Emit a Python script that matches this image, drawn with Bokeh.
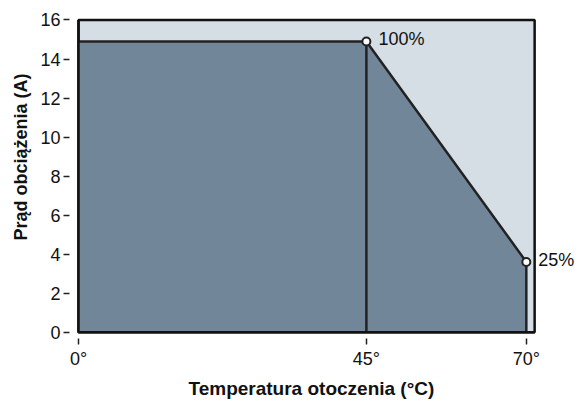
from bokeh.plotting import figure
from bokeh.models import Range1d, FixedTicker, Label, Title
from bokeh.embed import file_html
from bokeh.resources import INLINE

# data
temps = [0, 45, 70]
currents = [14.9, 14.9, 3.6]
pct_labels = ["100%", "25%"]
x_ticks = [0, 45, 70]
x_tick_labels = ["0°", "45°", "70°"]
y_ticks = [0, 2, 4, 6, 8, 10, 12, 14, 16]
x_max = 71.3
y_max = 16

FONT = "Liberation Sans"
DARK = "#718799"
LIGHT = "#d5dee4"
LINE = "#222222"

p = figure(width=578, height=403, output_backend="svg", toolbar_location=None,
           x_range=Range1d(-1.407, 78.0), y_range=Range1d(-0.323, 16.128),
           min_border_left=69, min_border_right=1, min_border_top=17, min_border_bottom=65)
p.outline_line_color = None
p.grid.visible = False
p.background_fill_color = "white"

# background region
p.quad(left=[0], right=[x_max], bottom=[0], top=[y_max], fill_color=LIGHT,
       line_color="#111111", line_width=2.5)

# derating area
px = [0] + temps + [temps[-1]]
py = [0] + currents + [0]
p.patch(px, py, fill_color=DARK, line_color=None)
p.line(temps, currents, line_color=LINE, line_width=2.5)
p.segment(x0=temps[1:], y0=[0, 0], x1=temps[1:], y1=currents[1:], line_color=LINE, line_width=2.5)
p.line([0, 0, x_max], [y_max, 0, 0], line_color="#111111", line_width=2.5)
p.scatter(temps[1:], currents[1:], size=8, fill_color="white", line_color=LINE, line_width=2)

for xv, yv, t in zip(temps[1:], currents[1:], pct_labels):
    p.add_layout(Label(x=xv, y=yv, text=t, x_offset=12, y_offset=2,
                       text_baseline="middle", text_font=FONT, text_font_size="18px",
                       text_color="#111111"))

for ax in (p.xaxis[0], p.yaxis[0]):
    ax.axis_line_color = None
    ax.major_tick_in = 0
    ax.major_tick_out = 6
    ax.minor_tick_line_color = None
    ax.major_tick_line_color = "#222222"
    ax.major_tick_line_width = 1.5
    ax.major_label_text_font = FONT
    ax.major_label_text_font_size = "18px"
    ax.major_label_text_color = "#111111"

p.xaxis.ticker = FixedTicker(ticks=x_ticks)
p.xaxis.major_label_overrides = {t: l for t, l in zip(x_ticks, x_tick_labels)}
p.yaxis.ticker = FixedTicker(ticks=y_ticks)
p.xaxis.major_label_standoff = 4
p.yaxis.major_label_standoff = 3

p.add_layout(Title(text="Temperatura otoczenia (°C)", align="left", offset=119,
                   text_font=FONT, text_font_size="19px", text_font_style="bold",
                   text_color="#111111", standoff=8), "below")
p.add_layout(Title(text="Prąd obciążenia (A)", align="left", offset=98,
                   text_font=FONT, text_font_size="18px", text_font_style="bold",
                   text_color="#111111", standoff=13), "left")

open("out.html", "w").write(file_html(p, INLINE))
